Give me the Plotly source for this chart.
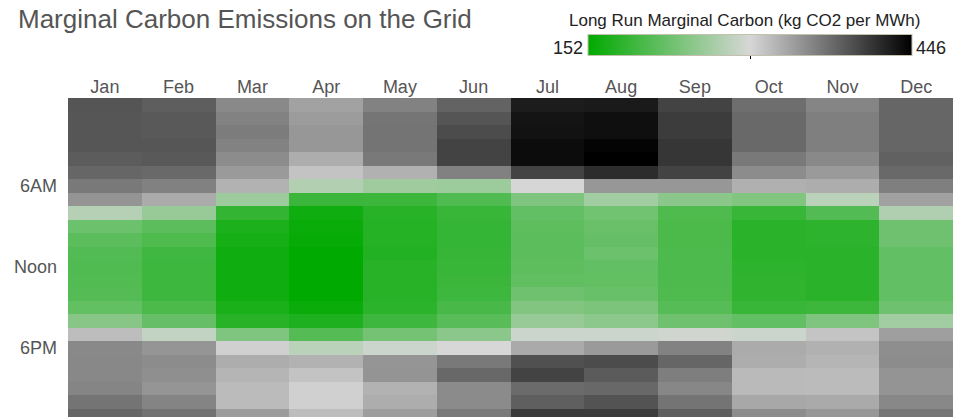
import plotly.graph_objects as go

months = ["Jan", "Feb", "Mar", "Apr", "May", "Jun", "Jul", "Aug", "Sep", "Oct", "Nov", "Dec"]
hours = list(range(24))
hour_tick_vals = [6, 12, 18]
hour_tick_text = ["6AM", "Noon", "6PM"]

# Long run marginal carbon, kg CO2 per MWh, hour 0..23 for each month
jan = [388, 387, 387, 387, 383, 376, 363, 345, 276, 226, 215, 209, 207, 208, 210, 219, 244, 317, 352, 353, 353, 355, 367, 376]
feb = [382, 385, 385, 387, 385, 374, 358, 329, 255, 215, 206, 196, 194, 194, 194, 203, 222, 285, 344, 350, 348, 344, 356, 369]
mar = [352, 357, 361, 357, 350, 341, 324, 260, 187, 172, 167, 163, 163, 163, 163, 170, 179, 239, 304, 328, 322, 318, 318, 339]
apr = [335, 339, 343, 343, 328, 313, 274, 192, 163, 159, 156, 152, 152, 152, 153, 159, 173, 210, 279, 324, 313, 304, 304, 317]
may = [357, 366, 367, 367, 363, 325, 261, 193, 179, 177, 177, 175, 179, 179, 179, 182, 194, 232, 291, 344, 345, 324, 328, 338]
jun = [378, 388, 394, 400, 400, 358, 259, 207, 190, 188, 188, 189, 190, 192, 194, 201, 212, 247, 299, 363, 375, 351, 351, 363]
jul = [427, 432, 434, 438, 438, 400, 300, 239, 220, 216, 214, 214, 216, 218, 228, 240, 255, 291, 330, 391, 400, 373, 381, 406]
aug = [428, 436, 436, 443, 446, 416, 343, 263, 229, 224, 222, 226, 220, 219, 223, 237, 248, 291, 341, 394, 384, 375, 389, 406]
sep = [400, 405, 405, 409, 409, 400, 343, 247, 206, 203, 203, 204, 204, 204, 206, 211, 228, 294, 357, 376, 360, 354, 367, 382]
oct = [371, 374, 374, 374, 363, 350, 326, 240, 190, 181, 181, 181, 183, 185, 185, 190, 220, 291, 329, 328, 319, 319, 331, 350]
nov = [355, 359, 359, 359, 352, 341, 328, 279, 209, 183, 183, 181, 181, 181, 181, 193, 239, 312, 325, 322, 318, 318, 330, 343]
dec = [376, 376, 376, 376, 380, 374, 359, 336, 272, 228, 228, 220, 220, 220, 220, 227, 263, 337, 349, 350, 345, 345, 353, 365]

z_min = 152
z_max = 446

columns = [jan, feb, mar, apr, may, jun, jul, aug, sep, oct, nov, dec]
z = [[col[h] for col in columns] for h in hours]

# the page body has an 8px margin; size the figure so it fills the window
OFF = 8
W, H = 965 - OFF, 417 - OFF
text_color = "#555555"
font_family = "Liberation Sans, Arial, sans-serif"


def px_x(px):
    return (px - OFF) / W


def px_y(py):
    return 1 - (py - OFF) / H


fig = go.Figure(
    go.Heatmap(
        z=z,
        x=months,
        y=hours,
        zmin=z_min,
        zmax=z_max,
        colorscale=[[0, "rgb(0,170,0)"], [0.5, "rgb(215,215,215)"], [1, "rgb(0,0,0)"]],
        colorbar=dict(
            orientation="h",
            x=px_x(750),
            xanchor="center",
            y=px_y(47.5),
            yanchor="middle",
            len=324,
            lenmode="pixels",
            thickness=21,
            xpad=0,
            ypad=0,
            outlinecolor="#c4c0ae",
            outlinewidth=1,
            tickvals=[(z_min + z_max) / 2],
            ticks="outside",
            ticklen=3,
            tickcolor="#000000",
            showticklabels=False,
        ),
        hoverongaps=False,
    )
)

fig.update_layout(
    width=W,
    height=H,
    margin=dict(l=0, r=0, t=0, b=0),
    paper_bgcolor="white",
    plot_bgcolor="white",
    font=dict(family=font_family, color=text_color, size=18),
    xaxis=dict(
        domain=[px_x(68), px_x(953)],
        side="top",
        showgrid=False,
        zeroline=False,
        showline=False,
        ticks="",
        automargin=False,
        tickfont=dict(size=18, color=text_color),
    ),
    yaxis=dict(
        domain=[0, px_y(98)],
        range=[23.13, -0.5],
        tickvals=hour_tick_vals,
        ticktext=hour_tick_text,
        showgrid=False,
        zeroline=False,
        showline=False,
        ticks="",
        automargin=False,
        ticklabelstandoff=10,
        tickfont=dict(size=18, color=text_color),
    ),
)

fig.add_annotation(text="Marginal Carbon Emissions on the Grid", x=px_x(16), y=px_y(19),
                   xref="paper", yref="paper", xanchor="left", yanchor="middle",
                   showarrow=False, font=dict(size=26, color=text_color))
fig.add_annotation(text="Long Run Marginal Carbon (kg CO2 per MWh)", x=px_x(744), y=px_y(21),
                   xref="paper", yref="paper", xanchor="center", yanchor="middle",
                   showarrow=False, font=dict(size=17, color="#222222"))
fig.add_annotation(text=str(z_min), x=px_x(585), y=px_y(48),
                   xref="paper", yref="paper", xanchor="right", yanchor="middle",
                   showarrow=False, font=dict(size=18, color="#222222"))
fig.add_annotation(text=str(z_max), x=px_x(914), y=px_y(48),
                   xref="paper", yref="paper", xanchor="left", yanchor="middle",
                   showarrow=False, font=dict(size=18, color="#222222"))

fig.write_html("out.html")
